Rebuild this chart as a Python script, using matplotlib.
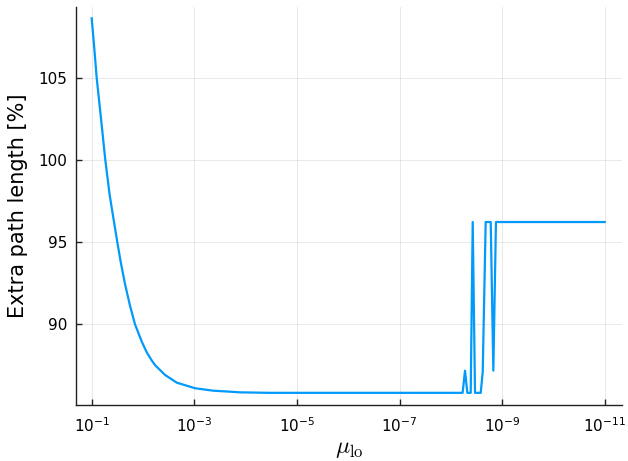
import matplotlib
matplotlib.use('Agg')
import matplotlib.pyplot as plt
import numpy as np

# log10(mu_lo) and extra path length [%]
log_mu = [-1.0, -1.05, -1.097, -1.187, -1.265, -1.351, -1.448, -1.499, -1.565, -1.649,
          -1.746, -1.844, -1.975, -2.072, -2.17, -2.234, -2.429, -2.657, -3.014,
          -3.37, -3.696, -3.891, -4.476, -5.5, -6.5, -7.5,
          -8.23, -8.277, -8.322, -8.388, -8.427, -8.472, -8.583,
          -8.622, -8.68, -8.778, -8.829, -8.88, -9.5, -10.0, -10.5, -11.0]
extra = [108.61, 106.8, 105.0, 102.35, 100.0, 97.85, 95.97, 95.0, 93.8, 92.45,
         91.14, 90.0, 88.95, 88.3, 87.8, 87.52, 86.92, 86.45, 86.11,
         85.96, 85.90, 85.86, 85.83, 85.83, 85.83, 85.83,
         85.83, 87.18, 85.83, 85.83, 96.22, 85.83, 85.83,
         87.1, 96.22, 96.22, 87.18, 96.22, 96.22, 96.22, 96.22, 96.22]

xticks = [1e-1, 1e-3, 1e-5, 1e-7, 1e-9, 1e-11]
yticks = [90, 95, 100, 105]

plt.rcParams['mathtext.fontset'] = 'cm'

fig = plt.figure(figsize=(6.28, 4.61), dpi=100)
ax = fig.add_axes([76 / 628, 56 / 461, 546 / 628, 398 / 461])

mu = 10.0 ** np.array(log_mu)
ax.plot(mu, extra, color='#009AFA', lw=1.6)

ax.set_xscale('log')
ax.set_xlim(10 ** -0.694, 10 ** -11.337)
ax.set_ylim(85.09, 109.3)
ax.set_xticks(xticks)
ax.xaxis.set_minor_locator(matplotlib.ticker.NullLocator())
ax.set_yticks(yticks)

ax.grid(True, color='black', alpha=0.1, lw=0.6)
for s in ['top', 'right']:
  ax.spines[s].set_visible(False)
for s in ['left', 'bottom']:
  ax.spines[s].set_linewidth(1.0)
  ax.spines[s].set_color('#222222')
ax.tick_params(direction='in', length=4, width=1.0, labelsize=11, color='#222222')
ax.tick_params(axis='x', pad=8)
ax.tick_params(axis='y', pad=6)

ax.set_ylabel('Extra path length [%]', fontsize=15, labelpad=8)
ax.set_xlabel(r'$\mu_{\mathrm{lo}}$', fontsize=17, labelpad=1)

plt.savefig('out.png', dpi=100)
plt.close('all')
